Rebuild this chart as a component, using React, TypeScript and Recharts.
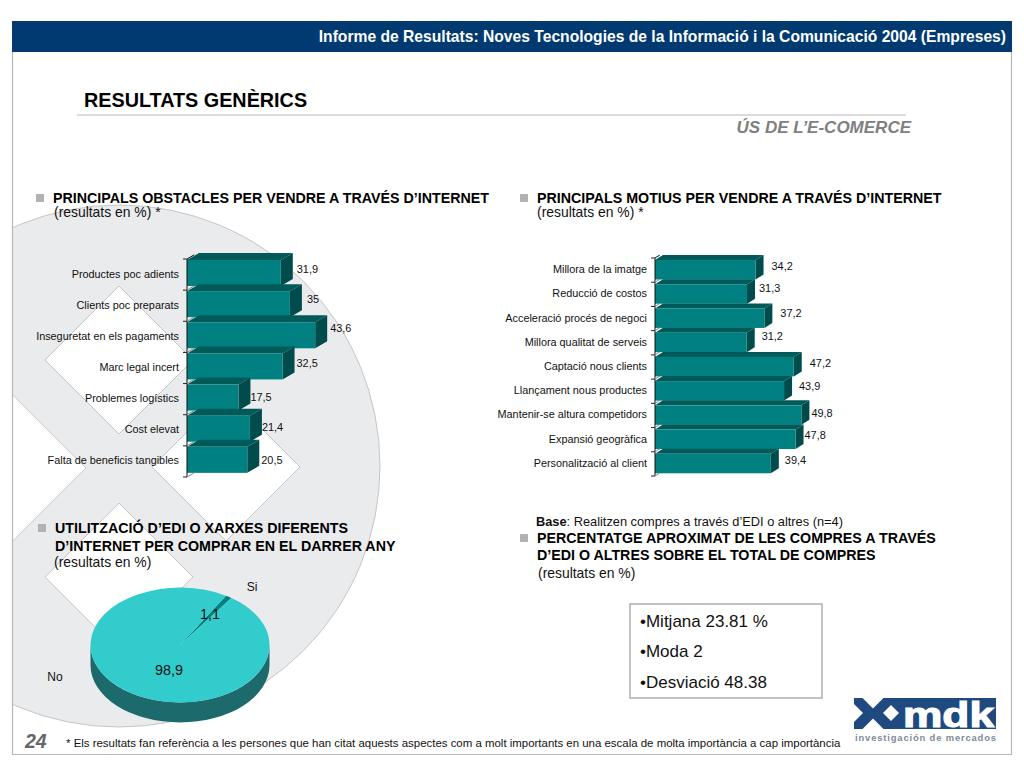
import React from "react";
import { BarChart, Bar, XAxis, YAxis, LabelList, PieChart, Pie, Cell } from "recharts";

const FONT = "'Liberation Sans', Arial, sans-serif";

const obstacleNames = [
  "Productes poc adients",
  "Clients poc preparats",
  "Inseguretat en els pagaments",
  "Marc legal incert",
  "Problemes logístics",
  "Cost elevat",
  "Falta de beneficis tangibles",
];
const obstacleValues = [31.9, 35, 43.6, 32.5, 17.5, 21.4, 20.5];

const motiveNames = [
  "Millora de la imatge",
  "Reducció de costos",
  "Acceleració procés de negoci",
  "Millora qualitat de serveis",
  "Captació nous clients",
  "Llançament nous productes",
  "Mantenir-se altura competidors",
  "Expansió geogràfica",
  "Personalització al client",
];
const motiveValues = [34.2, 31.3, 37.2, 31.2, 47.2, 43.9, 49.8, 47.8, 39.4];

const ediNames = ["Si", "No"];
const ediValues = [1.1, 98.9];

const statLines = ["•Mitjana 23.81 %", "•Moda 2", "•Desviació 48.38"];

// the value labels sit a bit loose in the original
const obstacleNudge = [[16, -6], [17, -7.5], [15, -9], [14, -5], [12, -3], [12, -4], [14, -2]];
const motiveNudge = [[16, -4], [12, -6], [16, -5.5], [15, -6], [16, -4], [15, -5], [10, -2], [9, -4.5], [14, -4]];

// pie label spots relative to the pie centre: [value, name]
const pieLabelSpots = [
  [[30, -31], [72, -58]],
  [[-11, 25], [-125, 32]],
];

const obstacleData = obstacleNames.map((name, i) => ({ name, value: obstacleValues[i] }));
const motiveData = motiveNames.map((name, i) => ({ name, value: motiveValues[i] }));
const ediData = ediNames.map((name, i) => ({ name, value: ediValues[i] }));

const comma = (v: number) => String(v).replace(".", ",");

const makeBarShape = (dx: number, dy: number, shift: number) => (props: any) => {
  const { x, y, width, height } = props;
  const top = y - shift;
  const r = x + width;
  const b = top + height;
  return (
    <g>
      <polygon points={`${x},${top} ${x + dx},${top - dy} ${r + dx},${top - dy} ${r},${top}`} fill="#005a5a" />
      <polygon points={`${r},${top} ${r + dx},${top - dy} ${r + dx},${b - dy} ${r},${b}`} fill="#004c4c" />
      <rect x={x} y={top} width={width} height={height} fill="#008080" />
    </g>
  );
};

const makeTick = (band: number, count: number, dx: number, dy: number, labelGap: number) => (props: any) => {
  const { x, y, payload, index } = props;
  const top = y - band / 2;
  const mark = (yy: number, key: string) => (
    <g key={key}>
      <line x1={x - 4} x2={x} y1={yy} y2={yy} stroke="#222" strokeWidth={1} />
      <line x1={x} x2={x + dx * 0.6} y1={yy} y2={yy - dy * 0.6} stroke={key === "t" && index === 0 ? "#111" : "#888"} strokeWidth={1} />
    </g>
  );
  return (
    <g>
      {mark(top, "t")}
      {index === count - 1 ? mark(top + band, "b") : null}
      <text x={x - labelGap} y={y} textAnchor="end" dy={-1} dominantBaseline="central" fontSize={10.85} fontFamily={FONT} fill="#111">
        {payload.value}
      </text>
    </g>
  );
};

const makeValueLabel = (nudge: number[][]) => (props: any) => {
  const { x, y, width, height, value, index } = props;
  const [ox, oy] = nudge[index];
  return (
    <text x={x + width + ox} y={y + height / 2 + oy} dominantBaseline="central" fontSize={10.9} fontFamily={FONT} fill="#111">
      {comma(value)}
    </text>
  );
};

const PIE_SQUASH = 0.642;
const PIE_DEPTH = 20;

const PieSlice3D = (props: any) => {
  const { cx, cy, outerRadius, startAngle, endAngle, fill } = props;
  const rx = outerRadius;
  const ry = outerRadius * PIE_SQUASH;
  const pt = (a: number, off = 0) => {
    const t = (a * Math.PI) / 180;
    return `${cx + rx * Math.cos(t)} ${cy - ry * Math.sin(t) + off}`;
  };
  const hi = Math.min(startAngle, endAngle);
  const big = Math.abs(startAngle - endAngle) > 180 ? 1 : 0;
  const wallHi = Math.min(startAngle, 0);
  const wallLo = Math.max(hi, -180);
  return (
    <g>
      {wallLo < wallHi ? (
        <path
          d={`M ${pt(wallHi)} A ${rx} ${ry} 0 0 1 ${pt(wallLo)} L ${pt(wallLo, PIE_DEPTH)} A ${rx} ${ry} 0 0 0 ${pt(wallHi, PIE_DEPTH)} Z`}
          fill="#1c6a6c"
        />
      ) : null}
      <path d={`M ${cx} ${cy} L ${pt(startAngle)} A ${rx} ${ry} 0 ${big} 1 ${pt(endAngle)} Z`} fill={fill} />
    </g>
  );
};

const pieLabel = (props: any) => {
  const { cx, cy, index } = props;
  const [valueSpot, nameSpot] = pieLabelSpots[index];
  return (
    <g fontFamily={FONT} fill="#111" textAnchor="middle" dominantBaseline="central">
      <text x={cx + valueSpot[0]} y={cy + valueSpot[1]} fontSize={14.4}>
        {comma(ediValues[index])}
      </text>
      <text x={cx + nameSpot[0]} y={cy + nameSpot[1]} fontSize={12}>
        {ediNames[index]}
      </text>
    </g>
  );
};

const Bullet = ({ x, y, size = 8 }: { x: number; y: number; size?: number }) => (
  <rect x={x} y={y} width={size} height={size} fill="#b2b2b2" />
);

const diamonds = [
  [119, 360],
  [119, 577],
  [226, 467],
  [12, 468],
];

const HEAD_SIZE = 14.25;
const NOTE_SIZE = 13.9;

const Backdrop = () => (
  <svg width={1024} height={768} style={{ position: "absolute", left: 0, top: 0 }} fontFamily={FONT}>
    <defs>
      <clipPath id="frame">
        <rect x={13} y={52} width={998} height={702} />
      </clipPath>
      <clipPath id="logo">
        <rect x={854} y={698} width={142} height={31} />
      </clipPath>
    </defs>
    <g clipPath="url(#frame)">
      <circle cx={119} cy={466} r={261} fill="#eaebed" stroke="#c6c6c6" />
      {diamonds.map(([cx, cy], i) => (
        <polygon key={i} points={`${cx},${cy - 74} ${cx + 74},${cy} ${cx},${cy + 74} ${cx - 74},${cy}`} fill="#fff" stroke="#c6c6c6" />
      ))}
    </g>
    <rect x={12} y={21} width={1000} height={31} fill="#003a70" />
    <path d="M12.5 52 V754.5 H1011.5 V52" fill="none" stroke="#b8b8b8" strokeWidth={1.2} />
    <text x={1006} y={42} textAnchor="end" fontSize={15.65} fontWeight="bold" fill="#fff">
      Informe de Resultats: Noves Tecnologies de la Informació i la Comunicació 2004 (Empreses)
    </text>
    <text x={84} y={107} fontSize={19.8} fontWeight="bold" fill="#000">
      RESULTATS GENÈRICS
    </text>
    <line x1={77} x2={906} y1={115} y2={115} stroke="#cfcfcf" strokeWidth={1.5} />
    <text x={911} y={133} textAnchor="end" fontSize={17} fontWeight="bold" fontStyle="italic" fill="#808080">
      ÚS DE L’E-COMERCE
    </text>

    <Bullet x={36} y={194} />
    <text x={53} y={203} fontSize={HEAD_SIZE} fontWeight="bold" fill="#000">
      PRINCIPALS OBSTACLES PER VENDRE A TRAVÉS D’INTERNET
    </text>
    <text x={54} y={217} fontSize={NOTE_SIZE} fill="#111">
      (resultats en %) *
    </text>

    <Bullet x={520} y={194} />
    <text x={537} y={203} fontSize={HEAD_SIZE} fontWeight="bold" fill="#000">
      PRINCIPALS MOTIUS PER VENDRE A TRAVÉS D’INTERNET
    </text>
    <text x={537} y={217} fontSize={NOTE_SIZE} fill="#111">
      (resultats en %) *
    </text>

    <Bullet x={38} y={524} />
    <text x={55} y={533} fontSize={HEAD_SIZE} fontWeight="bold" fill="#000">
      UTILITZACIÓ D’EDI O XARXES DIFERENTS
    </text>
    <text x={55} y={551} fontSize={HEAD_SIZE} fontWeight="bold" fill="#000">
      D’INTERNET PER COMPRAR EN EL DARRER ANY
    </text>
    <text x={54} y={567} fontSize={NOTE_SIZE} fill="#111">
      (resultats en %)
    </text>

    <text x={536} y={526} fontSize={12.8} fill="#111">
      <tspan fontWeight="bold">Base</tspan>: Realitzen compres a través d’EDI o altres (n=4)
    </text>
    <Bullet x={520} y={534} />
    <text x={537} y={543} fontSize={HEAD_SIZE} fontWeight="bold" fill="#000">
      PERCENTATGE APROXIMAT DE LES COMPRES A TRAVÉS
    </text>
    <text x={537} y={560} fontSize={HEAD_SIZE} fontWeight="bold" fill="#000">
      D’EDI O ALTRES SOBRE EL TOTAL DE COMPRES
    </text>
    <text x={538} y={578} fontSize={NOTE_SIZE} fill="#111">
      (resultats en %)
    </text>

    <rect x={630} y={604} width={192} height={94} fill="#fff" stroke="#999" strokeWidth={1.2} />
    {statLines.map((line, i) => (
      <text key={line} x={640} y={[627, 657, 688][i]} fontSize={17} fill="#111">
        {line}
      </text>
    ))}

    <text x={25} y={748} fontSize={19.5} fontWeight="bold" fontStyle="italic" fill="#666">
      24
    </text>
    <text x={66} y={747} fontSize={11.45} fill="#111">
      * Els resultats fan referència a les persones que han citat aquests aspectes com a molt importants en una escala de molta importància a cap importància
    </text>

    <rect x={854} y={698} width={142} height={31} fill="#1f4a80" />
    <g clipPath="url(#logo)" fill="#fff">
      <polygon points="873,687.5 883.5,698 873,708.5 862.5,698" />
      <polygon points="873,718.5 883.5,729 873,739.5 862.5,729" />
      <polygon points="854,704 863,713 854,722 845,713" />
      <polygon points="891,705 899,713 891,721 883,713" />
      <text x={903} y={727} fontSize={35} fontWeight="bold" stroke="#fff" strokeWidth={1.1} textLength={91} lengthAdjust="spacingAndGlyphs">
        mdk
      </text>
    </g>
    <text x={855} y={741} fontSize={9.4} fontWeight="bold" fill="#7d8a99" textLength={141}>
      investigación de mercados
    </text>
  </svg>
);

export default function App() {
  return (
    <div style={{ position: "absolute", left: 0, top: 0, width: 1024, height: 768, overflow: "hidden", background: "#fff" }}>
      <Backdrop />
      <div style={{ position: "absolute", left: 0, top: 240 }}>
        <BarChart
          width={400}
          height={250}
          layout="vertical"
          data={obstacleData}
          margin={{ top: 19, right: 36.6, bottom: 13, left: 0 }}
          barSize={26}
        >
          <XAxis type="number" domain={[0, 60]} hide />
          <YAxis
            type="category"
            dataKey="name"
            width={187}
            interval={0}
            tickLine={false}
            tickSize={0}
            tickMargin={0}
            axisLine={{ stroke: "#111" }}
            tick={makeTick(218 / 7, 7, 12, 7, 8)}
          />
          <Bar dataKey="value" isAnimationActive={false} shape={makeBarShape(12, 7, 2)}>
            <LabelList dataKey="value" content={makeValueLabel(obstacleNudge)} />
          </Bar>
        </BarChart>
      </div>
      <div style={{ position: "absolute", left: 490, top: 240 }}>
        <BarChart
          width={400}
          height={250}
          layout="vertical"
          data={motiveData}
          margin={{ top: 18, right: 58.6, bottom: 14, left: 0 }}
          barSize={19.5}
        >
          <XAxis type="number" domain={[0, 60]} hide />
          <YAxis
            type="category"
            dataKey="name"
            width={165}
            interval={0}
            tickLine={false}
            tickSize={0}
            tickMargin={0}
            axisLine={{ stroke: "#111" }}
            tick={makeTick(218 / 9, 9, 8, 5, 8)}
          />
          <Bar dataKey="value" isAnimationActive={false} shape={makeBarShape(8, 5, 0)}>
            <LabelList dataKey="value" content={makeValueLabel(motiveNudge)} />
          </Bar>
        </BarChart>
      </div>
      <div style={{ position: "absolute", left: 20, top: 560 }}>
        <PieChart width={320} height={190} margin={{ top: 0, right: 0, bottom: 0, left: 0 }}>
          <Pie
            data={ediData}
            dataKey="value"
            cx={160}
            cy={85}
            innerRadius={0}
            outerRadius={89.5}
            startAngle={59}
            endAngle={-301}
            stroke="none"
            isAnimationActive={false}
            shape={PieSlice3D}
            label={pieLabel}
            labelLine={false}
          >
            <Cell fill="#008080" />
            <Cell fill="#33cccc" />
          </Pie>
        </PieChart>
      </div>
    </div>
  );
}
